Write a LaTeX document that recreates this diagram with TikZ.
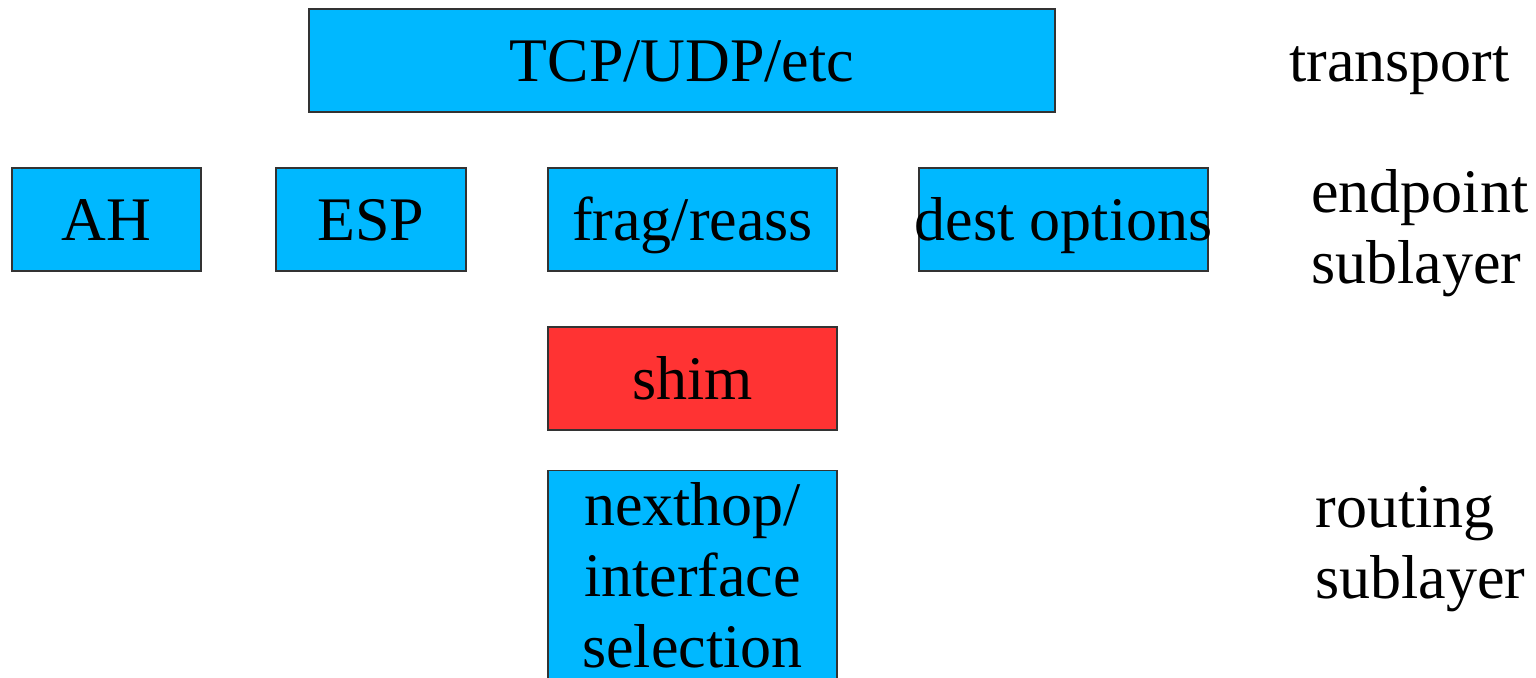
\documentclass[tikz,border=0pt]{standalone}
\usepackage{fontspec}
\setmainfont{Liberation Serif}
\definecolor{boxblue}{RGB}{0,184,255}
\definecolor{boxred}{RGB}{255,51,51}
\newcommand\firststrut[1]{\rule{0pt}{#1}}
\begin{document}
\begin{tikzpicture}[x=0.5pt,y=-0.5pt,
  every node/.style={font=\fontsize{31}{35.5}\selectfont, inner sep=0pt},
  layerbox/.style={draw=black!80, line width=0.6pt, fill=boxblue,
    text height=21.5pt, text depth=0pt, minimum height=51.5pt},
  sidelabel/.style={align=left}]
  \useasboundingbox (0,0) rectangle (1536,678);
  \clip (0,0) rectangle (1536,678);

  % transport layer
  \node[layerbox, minimum width=373pt] (tcp) at (682,60.5) {TCP/UDP/etc};

  % endpoint sublayer
  \node[layerbox, minimum width=94.5pt] (ah)   at (106.5,219.5) {AH};
  \node[layerbox, minimum width=95pt]   (esp)  at (371,219.5)   {ESP};
  \node[layerbox, minimum width=144.5pt] (frag) at (692.5,219.5) {frag/reass};
  % the label is wider than its box and spills over both sides
  \node[layerbox, minimum width=144.5pt] (dest) at (1063.5,219.5)
        {\makebox[0pt]{dest options}};

  % shim
  \node[layerbox, fill=boxred, minimum width=144.5pt] (shim) at (692.5,378.5) {shim};

  % routing sublayer (runs past the lower edge)
  \node[draw=black!80, line width=0.6pt, fill=boxblue, minimum width=144.5pt,
        align=center, anchor=north] (nexthop) at (692.5,470)
        {\firststrut{27.5pt}nexthop/\\interface\\selection\rule[-20pt]{0pt}{0pt}};

  % layer names
  \node[anchor=base west] (transport) at (1289,82) {transport};
  \node[sidelabel, anchor=north west] (endpoint) at (1311,162)
        {\firststrut{25pt}endpoint\\sublayer};
  \node[sidelabel, anchor=north west] (routing) at (1315,477)
        {\firststrut{25pt}routing\\sublayer};
\end{tikzpicture}
\end{document}
